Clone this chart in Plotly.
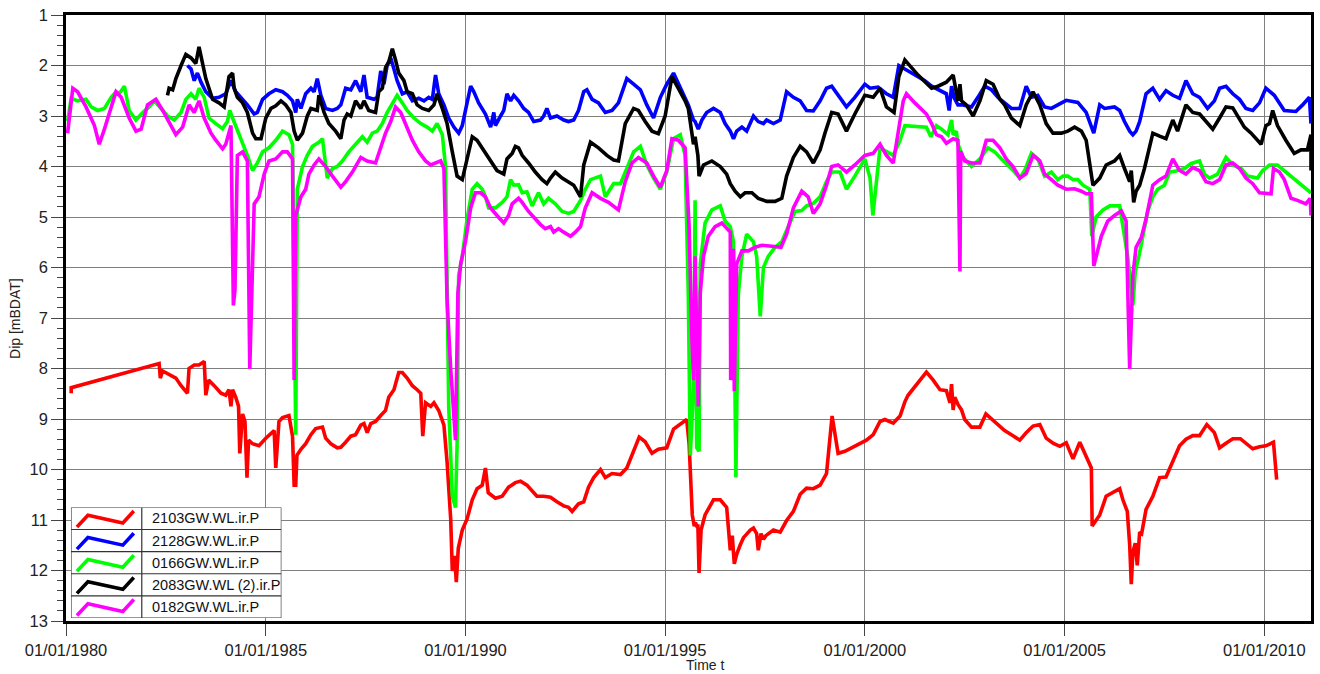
import pandas as pd
import plotly.graph_objects as go

# ---- groundwater dip series (decimal year, dip in m below datum) ----
T_2103 = [1980.13, 1980.13, 1982.33, 1982.36, 1982.42, 1982.75, 1982.88, 1983.04, 1983.08, 1983.21, 1983.33, 1983.46,
          1983.50, 1983.57, 1983.71, 1983.88, 1984.00, 1984.08, 1984.13, 1984.17, 1984.25, 1984.32, 1984.35, 1984.42,
          1984.48, 1984.53, 1984.57, 1984.67, 1984.83, 1985.00, 1985.21, 1985.25, 1985.33, 1985.42, 1985.58, 1985.67,
          1985.71, 1985.75, 1985.78, 1985.88, 1986.00, 1986.13, 1986.25, 1986.42, 1986.50, 1986.63, 1986.79, 1986.88,
          1987.00, 1987.13, 1987.25, 1987.38, 1987.46, 1987.54, 1987.63, 1987.75, 1987.88, 1988.00, 1988.08, 1988.21,
          1988.33, 1988.42, 1988.54, 1988.67, 1988.79, 1988.88, 1988.93, 1989.00, 1989.13, 1989.21, 1989.33, 1989.46,
          1989.54, 1989.63, 1989.67, 1989.73, 1989.77, 1989.82, 1989.92, 1990.04, 1990.17, 1990.29, 1990.42, 1990.46,
          1990.50, 1990.57, 1990.75, 1990.92, 1991.08, 1991.25, 1991.38, 1991.54, 1991.67, 1991.79, 1991.96, 1992.13,
          1992.29, 1992.46, 1992.58, 1992.67, 1992.83, 1992.96, 1993.08, 1993.21, 1993.38, 1993.50, 1993.67, 1993.88,
          1994.04, 1994.21, 1994.35, 1994.50, 1994.67, 1994.83, 1995.04, 1995.21, 1995.42, 1995.54, 1995.60, 1995.65,
          1995.68, 1995.73, 1995.76, 1995.79, 1995.82, 1995.85, 1995.90, 1996.00, 1996.21, 1996.38, 1996.54, 1996.63,
          1996.68, 1996.73, 1996.79, 1996.88, 1996.96, 1997.13, 1997.21, 1997.29, 1997.33, 1997.40, 1997.46, 1997.52,
          1997.71, 1997.88, 1998.04, 1998.21, 1998.38, 1998.54, 1998.71, 1998.88, 1999.04, 1999.18, 1999.33, 1999.50,
          1999.67, 1999.83, 2000.04, 2000.21, 2000.38, 2000.50, 2000.71, 2000.88, 2001.00, 2001.08, 2001.29, 2001.54,
          2001.71, 2001.88, 2002.04, 2002.13, 2002.17, 2002.21, 2002.25, 2002.33, 2002.42, 2002.50, 2002.67, 2002.88,
          2003.03, 2003.25, 2003.50, 2003.71, 2003.88, 2004.04, 2004.21, 2004.38, 2004.54, 2004.71, 2004.88, 2005.04,
          2005.21, 2005.38, 2005.54, 2005.67, 2005.69, 2005.88, 2006.04, 2006.25, 2006.38, 2006.46, 2006.57, 2006.63,
          2006.67, 2006.71, 2006.77, 2006.82, 2006.88, 2006.93, 2007.04, 2007.21, 2007.38, 2007.54, 2007.71, 2007.88,
          2008.04, 2008.21, 2008.38, 2008.56, 2008.75, 2008.88, 2009.04, 2009.21, 2009.40, 2009.54, 2009.71, 2009.88,
          2010.04, 2010.23, 2010.31]
V_2103 = [8.49, 8.38, 7.90, 8.19, 8.05, 8.19, 8.34, 8.49, 8.00, 7.93, 7.93, 7.86,
          8.53, 8.23, 8.34, 8.49, 8.53, 8.42, 8.75, 8.42, 8.57, 8.75, 9.68, 8.90,
          9.05, 10.16, 9.42, 9.49, 9.53, 9.38, 9.23, 9.97, 9.05, 8.97, 8.93, 9.34,
          10.31, 10.31, 9.72, 9.60, 9.49, 9.31, 9.19, 9.16, 9.38, 9.49, 9.57, 9.56,
          9.46, 9.34, 9.31, 9.12, 9.09, 9.27, 9.09, 9.05, 8.93, 8.83, 8.57, 8.42,
          8.08, 8.08, 8.19, 8.34, 8.42, 8.49, 9.34, 8.68, 8.75, 8.68, 8.83, 9.12,
          9.86, 10.98, 12.01, 11.71, 12.23, 11.56, 11.20, 10.98, 10.60, 10.38, 10.31, 10.16,
          9.97, 10.46, 10.57, 10.53, 10.35, 10.26, 10.23, 10.31, 10.42, 10.53, 10.53, 10.55,
          10.64, 10.72, 10.75, 10.83, 10.68, 10.64, 10.35, 10.16, 10.00, 10.16, 10.08, 10.10,
          9.97, 9.64, 9.36, 9.45, 9.68, 9.60, 9.57, 9.20, 9.08, 9.01, 9.49, 10.23,
          10.90, 11.12, 11.05, 11.12, 11.12, 12.05, 11.20, 10.90, 10.60, 10.60, 10.75, 11.60,
          11.31, 11.87, 11.68, 11.49, 11.35, 11.20, 11.16, 11.27, 11.60, 11.27, 11.38, 11.31,
          11.20, 11.24, 11.01, 10.83, 10.49, 10.37, 10.38, 10.31, 10.08, 8.94, 9.68, 9.64,
          9.57, 9.49, 9.42, 9.31, 9.05, 9.01, 9.08, 8.94, 8.66, 8.53, 8.31, 8.07,
          8.23, 8.42, 8.44, 8.68, 8.31, 8.82, 8.57, 8.71, 8.82, 9.01, 9.16, 9.16,
          8.90, 9.05, 9.23, 9.33, 9.42, 9.27, 9.14, 9.11, 9.38, 9.48, 9.54, 9.47,
          9.79, 9.46, 9.75, 9.97, 11.12, 10.90, 10.53, 10.44, 10.38, 10.60, 10.83, 11.49,
          12.27, 11.64, 11.46, 11.90, 11.24, 11.27, 10.79, 10.53, 10.16, 10.15, 9.83, 9.53,
          9.40, 9.33, 9.33, 9.11, 9.27, 9.57, 9.48, 9.39, 9.39, 9.49, 9.59, 9.55,
          9.53, 9.46, 10.20]

T_2128 = [1983.04, 1983.13, 1983.21, 1983.29, 1983.38, 1983.50, 1983.67, 1983.83, 1984.00, 1984.13, 1984.25, 1984.38,
          1984.54, 1984.71, 1984.79, 1984.92, 1985.08, 1985.25, 1985.42, 1985.54, 1985.67, 1985.75, 1985.79, 1985.88,
          1986.00, 1986.13, 1986.21, 1986.29, 1986.38, 1986.50, 1986.67, 1986.79, 1986.88, 1987.00, 1987.13, 1987.25,
          1987.38, 1987.46, 1987.54, 1987.71, 1987.79, 1987.88, 1987.96, 1988.04, 1988.13, 1988.21, 1988.29, 1988.42,
          1988.54, 1988.67, 1988.83, 1988.96, 1989.08, 1989.17, 1989.25, 1989.33, 1989.46, 1989.58, 1989.71, 1989.83,
          1989.92, 1990.00, 1990.13, 1990.21, 1990.33, 1990.50, 1990.63, 1990.71, 1990.75, 1990.88, 1990.96, 1991.04,
          1991.13, 1991.21, 1991.33, 1991.46, 1991.58, 1991.71, 1991.88, 1991.96, 1992.04, 1992.13, 1992.29, 1992.46,
          1992.58, 1992.71, 1992.83, 1992.96, 1993.04, 1993.17, 1993.33, 1993.50, 1993.67, 1993.83, 1994.04, 1994.21,
          1994.38, 1994.54, 1994.71, 1994.88, 1995.04, 1995.21, 1995.42, 1995.58, 1995.71, 1995.75, 1995.83, 1995.92,
          1996.04, 1996.21, 1996.38, 1996.50, 1996.63, 1996.71, 1996.79, 1996.92, 1997.04, 1997.21, 1997.33, 1997.46,
          1997.54, 1997.71, 1997.88, 1998.04, 1998.21, 1998.38, 1998.54, 1998.71, 1998.88, 1999.04, 1999.17, 1999.38,
          1999.54, 1999.75, 2000.00, 2000.13, 2000.33, 2000.54, 2000.71, 2000.85, 2001.00, 2001.25, 2001.50, 2001.67,
          2001.83, 2002.04, 2002.11, 2002.17, 2002.23, 2002.33, 2002.46, 2002.67, 2002.83, 2003.00, 2003.17, 2003.33,
          2003.50, 2003.67, 2003.88, 2004.04, 2004.17, 2004.33, 2004.50, 2004.67, 2004.83, 2005.04, 2005.33, 2005.54,
          2005.73, 2005.88, 2006.00, 2006.25, 2006.38, 2006.50, 2006.63, 2006.71, 2006.79, 2006.88, 2007.04, 2007.21,
          2007.38, 2007.54, 2007.71, 2007.88, 2008.04, 2008.21, 2008.38, 2008.58, 2008.75, 2008.88, 2009.04, 2009.21,
          2009.38, 2009.54, 2009.71, 2009.88, 2010.04, 2010.25, 2010.50, 2010.79, 2010.96, 2011.13, 2011.17]
V_2128 = [2.00, 2.07, 2.30, 2.15, 2.33, 2.52, 2.65, 2.63, 2.56, 2.30, 2.52, 2.63,
          2.78, 2.96, 2.93, 2.67, 2.56, 2.48, 2.52, 2.59, 2.70, 2.93, 2.67, 2.85,
          2.56, 2.45, 2.52, 2.26, 2.59, 2.85, 2.89, 2.85, 2.78, 2.45, 2.48, 2.30,
          2.52, 2.19, 2.63, 2.67, 2.63, 2.11, 2.37, 2.00, 1.85, 2.07, 2.30, 2.56,
          2.52, 2.70, 2.65, 2.70, 2.63, 2.67, 2.19, 2.56, 2.78, 3.04, 3.22, 3.34,
          3.19, 2.89, 2.41, 2.52, 2.74, 2.96, 3.22, 2.93, 3.19, 3.00, 2.89, 2.56,
          2.70, 2.59, 2.70, 2.85, 2.93, 3.11, 3.08, 3.00, 2.85, 3.04, 3.00, 3.08,
          3.11, 3.08, 2.89, 2.52, 2.48, 2.67, 2.74, 2.93, 2.89, 2.74, 2.26, 2.37,
          2.48, 2.78, 3.04, 2.63, 2.37, 2.15, 2.52, 2.78, 3.08, 3.11, 3.26, 3.08,
          2.93, 2.85, 2.93, 3.15, 3.30, 3.45, 3.30, 3.22, 3.30, 3.00, 3.11, 3.15,
          3.08, 3.15, 3.08, 2.52, 2.63, 2.70, 2.89, 2.90, 2.70, 2.45, 2.41, 2.63,
          2.82, 2.63, 2.37, 2.45, 2.43, 2.56, 2.63, 2.00, 2.07, 2.19, 2.30, 2.41,
          2.48, 2.56, 2.89, 2.41, 2.63, 2.78, 2.78, 2.82, 2.63, 2.41, 2.48, 2.63,
          2.74, 2.85, 2.85, 2.41, 2.63, 2.59, 2.82, 2.85, 2.78, 2.69, 2.73, 2.93,
          3.34, 2.78, 2.85, 2.82, 2.89, 3.11, 3.30, 3.37, 3.30, 3.11, 2.56, 2.45,
          2.67, 2.50, 2.59, 2.65, 2.30, 2.56, 2.63, 2.85, 2.70, 2.45, 2.41, 2.56,
          2.67, 2.85, 2.89, 2.74, 2.45, 2.59, 2.89, 2.91, 2.78, 2.63, 3.15]

T_0166 = [1980.04, 1980.13, 1980.29, 1980.50, 1980.63, 1980.79, 1980.96, 1981.13, 1981.25, 1981.33, 1981.46, 1981.58,
          1981.75, 1981.92, 1982.08, 1982.21, 1982.38, 1982.54, 1982.71, 1982.88, 1983.00, 1983.13, 1983.25, 1983.33,
          1983.46, 1983.58, 1983.75, 1983.92, 1984.04, 1984.10, 1984.17, 1984.25, 1984.38, 1984.54, 1984.67, 1984.79,
          1984.92, 1985.08, 1985.25, 1985.42, 1985.58, 1985.67, 1985.75, 1985.79, 1985.92, 1986.04, 1986.17, 1986.33,
          1986.42, 1986.54, 1986.67, 1986.79, 1986.92, 1987.08, 1987.25, 1987.42, 1987.54, 1987.67, 1987.79, 1987.92,
          1988.04, 1988.17, 1988.29, 1988.42, 1988.54, 1988.71, 1988.88, 1989.04, 1989.17, 1989.29, 1989.42, 1989.50,
          1989.58, 1989.67, 1989.75, 1989.79, 1989.83, 1989.92, 1990.04, 1990.17, 1990.29, 1990.42, 1990.50, 1990.58,
          1990.75, 1990.92, 1991.04, 1991.13, 1991.21, 1991.33, 1991.42, 1991.54, 1991.67, 1991.83, 1991.96, 1992.08,
          1992.25, 1992.42, 1992.58, 1992.71, 1992.88, 1993.00, 1993.13, 1993.38, 1993.50, 1993.71, 1993.88, 1994.04,
          1994.21, 1994.38, 1994.54, 1994.71, 1994.88, 1995.04, 1995.21, 1995.38, 1995.50, 1995.58, 1995.63, 1995.71,
          1995.75, 1995.79, 1995.85, 1995.88, 1996.00, 1996.17, 1996.38, 1996.50, 1996.63, 1996.71, 1996.77, 1996.83,
          1996.92, 1997.04, 1997.21, 1997.29, 1997.38, 1997.46, 1997.58, 1997.75, 1997.92, 1998.08, 1998.25, 1998.42,
          1998.54, 1998.71, 1998.88, 1999.04, 1999.17, 1999.38, 1999.54, 1999.75, 2000.00, 2000.13, 2000.20, 2000.38,
          2000.54, 2000.71, 2000.88, 2001.00, 2001.54, 2001.65, 2001.79, 2001.92, 2002.08, 2002.17, 2002.21, 2002.29,
          2002.33, 2002.46, 2002.67, 2002.88, 2003.08, 2003.25, 2003.42, 2003.58, 2003.75, 2003.88, 2004.00, 2004.17,
          2004.33, 2004.50, 2004.67, 2004.83, 2004.96, 2005.08, 2005.21, 2005.33, 2005.46, 2005.63, 2005.68, 2005.79,
          2005.96, 2006.13, 2006.25, 2006.38, 2006.46, 2006.58, 2006.71, 2006.77, 2006.88, 2006.96, 2007.08, 2007.21,
          2007.33, 2007.50, 2007.63, 2007.79, 2008.00, 2008.17, 2008.38, 2008.50, 2008.63, 2008.83, 2009.04, 2009.21,
          2009.42, 2009.58, 2009.83, 2009.96, 2010.13, 2010.33, 2011.17]
V_0166 = [3.10, 2.65, 2.70, 2.67, 2.82, 2.89, 2.85, 2.63, 2.52, 2.56, 2.41, 2.89,
          3.08, 2.93, 2.82, 2.70, 2.85, 3.00, 3.08, 2.93, 2.67, 2.56, 2.67, 2.45,
          2.63, 3.04, 3.15, 3.25, 3.11, 2.89, 3.04, 3.19, 3.45, 3.78, 4.08, 3.93,
          3.71, 3.63, 3.48, 3.30, 3.37, 3.56, 9.31, 4.45, 4.00, 3.78, 3.60, 3.52,
          3.45, 4.23, 4.04, 4.00, 3.89, 3.71, 3.56, 3.41, 3.52, 3.34, 3.30, 3.15,
          2.93, 2.74, 2.59, 2.74, 2.89, 3.04, 3.15, 3.22, 3.30, 3.15, 3.37, 4.00,
          8.75, 10.53, 10.75, 9.50, 6.15, 5.78, 5.04, 4.45, 4.34, 4.45, 4.60, 4.82,
          4.82, 4.71, 4.60, 4.26, 4.37, 4.36, 4.52, 4.50, 4.78, 4.52, 4.74, 4.63,
          4.74, 4.89, 4.93, 4.89, 4.67, 4.45, 4.26, 4.19, 4.60, 4.34, 4.34, 4.04,
          3.71, 3.60, 3.97, 4.23, 4.45, 4.11, 3.45, 3.37, 3.78, 6.53, 9.72, 8.38,
          4.67, 9.57, 9.64, 5.93, 5.12, 4.86, 4.78, 5.08, 5.19, 5.49, 10.16, 6.53,
          5.78, 5.34, 5.49, 5.78, 6.97, 6.00, 5.78, 5.60, 5.49, 5.19, 4.89, 4.87,
          4.78, 4.73, 4.60, 4.30, 4.11, 4.11, 4.45, 4.19, 3.85, 4.23, 4.97, 3.63,
          3.71, 3.78, 3.48, 3.19, 3.22, 3.41, 3.19, 3.26, 3.37, 3.08, 3.37, 3.30,
          3.56, 3.82, 4.00, 3.85, 3.63, 3.71, 3.85, 3.97, 4.11, 4.23, 4.08, 3.74,
          3.85, 4.19, 4.11, 4.26, 4.19, 4.19, 4.26, 4.26, 4.37, 4.45, 5.38, 5.00,
          4.86, 4.78, 4.78, 4.78, 5.19, 5.78, 6.75, 6.08, 5.71, 5.34, 4.89, 4.60,
          4.45, 4.37, 4.11, 4.09, 4.04, 3.94, 3.89, 4.15, 4.23, 4.15, 3.82, 3.97,
          4.04, 4.19, 4.23, 4.08, 3.97, 3.97, 4.52]

T_2083 = [1982.54, 1982.58, 1982.67, 1982.75, 1982.88, 1983.00, 1983.13, 1983.25, 1983.33, 1983.42, 1983.50, 1983.67,
          1983.83, 1983.96, 1984.08, 1984.17, 1984.21, 1984.29, 1984.42, 1984.54, 1984.67, 1984.75, 1984.88, 1985.00,
          1985.13, 1985.25, 1985.38, 1985.50, 1985.63, 1985.71, 1985.79, 1985.92, 1986.04, 1986.13, 1986.29, 1986.33,
          1986.46, 1986.58, 1986.75, 1986.88, 1986.96, 1987.04, 1987.13, 1987.25, 1987.38, 1987.46, 1987.58, 1987.75,
          1987.83, 1987.92, 1988.00, 1988.08, 1988.17, 1988.25, 1988.33, 1988.46, 1988.54, 1988.67, 1988.79, 1988.92,
          1989.08, 1989.21, 1989.29, 1989.42, 1989.54, 1989.67, 1989.79, 1989.92, 1990.00, 1990.17, 1990.29, 1990.42,
          1990.50, 1990.63, 1990.79, 1990.96, 1991.04, 1991.17, 1991.25, 1991.33, 1991.42, 1991.58, 1991.75, 1991.92,
          1992.04, 1992.13, 1992.25, 1992.42, 1992.58, 1992.71, 1992.88, 1992.96, 1993.13, 1993.33, 1993.54, 1993.71,
          1993.83, 1994.00, 1994.21, 1994.33, 1994.50, 1994.67, 1994.83, 1995.00, 1995.17, 1995.33, 1995.50, 1995.58,
          1995.71, 1995.75, 1995.82, 1995.85, 1995.96, 1996.17, 1996.38, 1996.54, 1996.63, 1996.75, 1996.88, 1997.00,
          1997.17, 1997.33, 1997.54, 1997.75, 1997.92, 1998.04, 1998.21, 1998.38, 1998.54, 1998.71, 1998.88, 1999.00,
          1999.17, 1999.33, 1999.54, 1999.75, 2000.00, 2000.21, 2000.38, 2000.54, 2000.73, 2000.85, 2000.96, 2001.00,
          2001.33, 2001.67, 2001.83, 2002.04, 2002.21, 2002.33, 2002.38, 2002.42, 2002.54, 2002.71, 2002.88, 2003.04,
          2003.21, 2003.38, 2003.50, 2003.67, 2003.88, 2004.04, 2004.21, 2004.38, 2004.54, 2004.71, 2004.92, 2005.08,
          2005.25, 2005.42, 2005.54, 2005.71, 2005.88, 2006.04, 2006.25, 2006.38, 2006.50, 2006.63, 2006.67, 2006.73,
          2006.79, 2006.88, 2007.00, 2007.21, 2007.38, 2007.54, 2007.71, 2007.83, 2008.04, 2008.21, 2008.38, 2008.54,
          2008.71, 2008.88, 2009.04, 2009.21, 2009.33, 2009.50, 2009.67, 2009.79, 2009.92, 2010.04, 2010.13, 2010.21,
          2010.33, 2010.54, 2010.75, 2010.92, 2011.08, 2011.17, 2011.17]
V_2083 = [2.59, 2.45, 2.48, 2.26, 2.00, 1.78, 1.85, 1.96, 1.63, 1.93, 2.26, 2.67,
          2.74, 2.82, 2.22, 2.15, 2.45, 2.63, 2.74, 2.93, 3.34, 3.45, 3.45, 3.04,
          2.85, 2.80, 2.70, 2.78, 2.93, 3.30, 3.48, 3.34, 3.00, 2.85, 2.89, 2.59,
          2.93, 3.15, 3.30, 3.45, 3.08, 2.96, 3.00, 2.70, 2.85, 2.70, 2.89, 2.93,
          2.52, 2.45, 2.04, 1.93, 1.67, 1.89, 2.15, 2.30, 2.52, 2.56, 2.78, 2.85,
          2.89, 2.78, 2.56, 2.85, 3.15, 3.71, 4.19, 4.26, 4.00, 3.41, 3.48, 3.63,
          3.74, 3.89, 4.08, 4.15, 3.85, 3.74, 3.60, 3.63, 3.78, 3.93, 4.11, 4.26,
          4.34, 4.23, 4.11, 4.23, 4.30, 4.37, 4.60, 3.97, 3.52, 3.63, 3.78, 3.87,
          3.89, 3.15, 2.85, 2.89, 3.11, 3.30, 3.35, 3.00, 2.22, 2.45, 2.70, 2.85,
          3.56, 3.41, 3.78, 4.19, 3.97, 3.89, 4.00, 4.15, 4.34, 4.49, 4.60, 4.52,
          4.52, 4.63, 4.69, 4.69, 4.63, 4.19, 3.82, 3.60, 3.71, 3.93, 3.67, 3.34,
          2.93, 2.96, 3.30, 2.96, 2.59, 2.63, 2.45, 2.82, 2.93, 2.22, 1.96, 1.89,
          2.19, 2.45, 2.41, 2.33, 2.19, 2.70, 2.37, 2.70, 2.78, 3.00, 2.70, 2.30,
          2.37, 2.67, 2.78, 3.04, 3.19, 2.78, 2.52, 2.78, 3.15, 3.34, 3.34, 3.30,
          3.22, 3.30, 3.48, 4.37, 4.23, 3.97, 3.89, 3.78, 4.04, 4.30, 4.08, 4.71,
          4.49, 4.37, 4.04, 3.34, 3.40, 3.45, 3.08, 3.30, 2.78, 2.93, 2.96, 3.11,
          3.26, 3.04, 2.82, 2.84, 3.00, 3.22, 3.34, 3.45, 3.56, 3.19, 3.15, 2.89,
          3.19, 3.48, 3.74, 3.67, 3.67, 3.37, 4.08]

T_0182 = [1980.04, 1980.17, 1980.29, 1980.50, 1980.71, 1980.83, 1980.96, 1981.08, 1981.25, 1981.38, 1981.58, 1981.75,
          1981.88, 1982.04, 1982.25, 1982.42, 1982.58, 1982.75, 1982.92, 1983.08, 1983.21, 1983.33, 1983.46, 1983.63,
          1983.75, 1983.92, 1984.00, 1984.13, 1984.19, 1984.23, 1984.29, 1984.42, 1984.54, 1984.60, 1984.71, 1984.83,
          1984.96, 1985.08, 1985.25, 1985.42, 1985.54, 1985.67, 1985.71, 1985.75, 1985.88, 1986.00, 1986.08, 1986.21,
          1986.33, 1986.50, 1986.67, 1986.88, 1987.00, 1987.17, 1987.38, 1987.54, 1987.75, 1987.88, 1988.00, 1988.13,
          1988.25, 1988.38, 1988.50, 1988.67, 1988.83, 1989.00, 1989.13, 1989.25, 1989.38, 1989.46, 1989.54, 1989.63,
          1989.75, 1989.81, 1989.88, 1990.00, 1990.13, 1990.25, 1990.38, 1990.50, 1990.63, 1990.79, 1990.96, 1991.08,
          1991.17, 1991.33, 1991.42, 1991.58, 1991.75, 1991.88, 1992.00, 1992.13, 1992.21, 1992.33, 1992.46, 1992.63,
          1992.75, 1992.88, 1993.00, 1993.17, 1993.38, 1993.58, 1993.83, 1994.00, 1994.17, 1994.33, 1994.54, 1994.71,
          1994.88, 1995.04, 1995.17, 1995.33, 1995.50, 1995.60, 1995.67, 1995.71, 1995.75, 1995.83, 1995.88, 1995.96,
          1996.08, 1996.25, 1996.42, 1996.54, 1996.63, 1996.64, 1996.71, 1996.73, 1996.79, 1996.92, 1997.08, 1997.25,
          1997.42, 1997.67, 1997.90, 1998.04, 1998.21, 1998.42, 1998.58, 1998.71, 1998.88, 1999.04, 1999.17, 1999.33,
          1999.54, 1999.75, 2000.00, 2000.21, 2000.38, 2000.54, 2000.71, 2000.83, 2000.96, 2001.04, 2001.25, 2001.54,
          2001.67, 2001.79, 2001.92, 2002.04, 2002.21, 2002.33, 2002.38, 2002.40, 2002.50, 2002.67, 2002.88, 2003.04,
          2003.21, 2003.38, 2003.54, 2003.71, 2003.88, 2004.04, 2004.21, 2004.38, 2004.50, 2004.67, 2004.83, 2005.04,
          2005.25, 2005.42, 2005.54, 2005.67, 2005.73, 2005.92, 2006.08, 2006.25, 2006.42, 2006.54, 2006.63, 2006.71,
          2006.79, 2006.92, 2007.04, 2007.21, 2007.38, 2007.54, 2007.71, 2007.88, 2008.04, 2008.21, 2008.38, 2008.54,
          2008.71, 2008.88, 2009.04, 2009.21, 2009.38, 2009.54, 2009.71, 2009.88, 2010.04, 2010.17, 2010.23, 2010.38,
          2010.50, 2010.67, 2010.83, 2011.04, 2011.15, 2011.17]
V_0182 = [3.34, 2.45, 2.52, 2.82, 3.19, 3.56, 3.26, 2.96, 2.52, 2.63, 3.04, 3.30,
          3.26, 2.78, 2.67, 2.89, 3.11, 3.37, 3.22, 2.78, 2.93, 2.70, 3.04, 3.34,
          3.48, 3.65, 3.56, 3.19, 6.75, 6.45, 3.78, 3.71, 3.89, 8.01, 4.74, 4.60,
          4.15, 3.89, 3.85, 3.71, 3.71, 3.85, 8.23, 4.97, 4.60, 4.45, 4.15, 3.97,
          3.85, 4.00, 4.19, 4.41, 4.30, 4.11, 3.82, 3.89, 3.93, 3.63, 3.34, 3.11,
          2.82, 2.93, 3.15, 3.48, 3.71, 3.89, 3.97, 3.93, 3.89, 4.04, 6.67, 8.00,
          9.42, 6.50, 5.93, 5.49, 4.82, 4.52, 4.52, 4.60, 4.82, 4.97, 5.12, 4.97,
          4.74, 4.63, 4.71, 4.89, 5.04, 5.15, 5.23, 5.19, 5.30, 5.23, 5.30, 5.38,
          5.30, 5.19, 4.82, 4.52, 4.63, 4.71, 4.86, 4.30, 3.93, 3.82, 3.93, 4.19,
          4.41, 4.08, 3.45, 3.48, 3.63, 5.19, 7.42, 8.23, 5.78, 8.75, 6.50, 5.78,
          5.38, 5.19, 5.12, 5.23, 5.30, 8.23, 5.63, 8.45, 5.93, 5.67, 5.67, 5.60,
          5.56, 5.58, 5.60, 5.34, 4.82, 4.49, 4.60, 4.93, 4.74, 4.37, 4.00, 3.97,
          4.11, 3.97, 3.78, 3.74, 3.56, 3.78, 3.93, 3.34, 2.70, 2.56, 2.74, 2.96,
          3.15, 3.37, 3.41, 3.54, 3.45, 3.48, 6.08, 3.70, 3.89, 3.93, 3.93, 3.48,
          3.48, 3.63, 3.85, 4.00, 4.23, 4.14, 3.78, 3.89, 4.15, 4.26, 4.37, 4.45,
          4.44, 4.49, 4.54, 4.54, 5.97, 5.38, 5.08, 4.97, 4.88, 5.08, 8.01, 6.15,
          5.60, 5.41, 5.04, 4.37, 4.26, 4.19, 3.85, 4.08, 4.15, 4.02, 4.08, 4.30,
          4.34, 4.26, 3.97, 3.93, 4.04, 4.23, 4.34, 4.52, 4.54, 4.54, 4.04, 4.11,
          4.26, 4.63, 4.67, 4.74, 4.63, 4.97]

SERIES_NAMES = ["2103GW.WL.ir.P", "2128GW.WL.ir.P", "0166GW.WL.ir.P", "2083GW.WL (2).ir.P", "0182GW.WL.ir.P"]
SERIES_COLORS = ["#ff0000", "#0000ff", "#00ff00", "#000000", "#ff00ff"]
SERIES_T = [T_2103, T_2128, T_0166, T_2083, T_0182]
SERIES_V = [V_2103, V_2128, V_0166, V_2083, V_0182]

Y_TICKS = list(range(1, 14))
X_TICK_YEARS = [1980, 1985, 1990, 1995, 2000, 2005, 2010]
X_START, X_END = 1980.0, 2011.17


def to_date(y):
    """Convert a decimal year into a timestamp."""
    year = int(y)
    start = pd.Timestamp(year=year, month=1, day=1)
    days = (pd.Timestamp(year=year + 1, month=1, day=1) - start).days
    return start + pd.Timedelta(days=(y - year) * days)


FONT = "Liberation Sans, Arial, sans-serif"
LINE_W = 3.6
fig = go.Figure()

for name, color, ts, vs in zip(SERIES_NAMES, SERIES_COLORS, SERIES_T, SERIES_V):
    fig.add_trace(go.Scatter(
        x=[to_date(t) for t in ts], y=vs, mode="lines", name=name,
        line=dict(color=color, width=LINE_W), showlegend=False,
        xaxis="x", yaxis="y",
    ))

# ---- boxed legend drawn on a small overlay axis (units ~ pixels) ----
LEG_W, LEG_H = 211, 111
ROW_H = LEG_H / len(SERIES_NAMES)
DIV_X = 71
SAMPLE_X = [6, 17, 52, 63]
SAMPLE_Y = [19.7, 8.0, 15.7, 3.7]

fig.add_trace(go.Scatter(
    x=[0, LEG_W, LEG_W, 0, 0], y=[0, 0, LEG_H, LEG_H, 0],
    mode="lines", fill="toself", fillcolor="white",
    line=dict(color="#333333", width=1.2), showlegend=False, hoverinfo="skip",
    xaxis="x2", yaxis="y2",
))
grid_x, grid_y = [DIV_X, DIV_X, None], [0, LEG_H, None]
for i in range(1, len(SERIES_NAMES)):
    grid_x += [0, LEG_W, None]
    grid_y += [i * ROW_H, i * ROW_H, None]
fig.add_trace(go.Scatter(
    x=grid_x, y=grid_y, mode="lines", line=dict(color="#333333", width=1.2),
    showlegend=False, hoverinfo="skip", xaxis="x2", yaxis="y2",
))
for i, (name, color) in enumerate(zip(SERIES_NAMES, SERIES_COLORS)):
    fig.add_trace(go.Scatter(
        x=SAMPLE_X, y=[i * ROW_H + s for s in SAMPLE_Y], mode="lines",
        line=dict(color=color, width=LINE_W), showlegend=False, hoverinfo="skip",
        xaxis="x2", yaxis="y2",
    ))
    fig.add_annotation(
        x=DIV_X + 8, y=(i + 0.5) * ROW_H, xref="x2", yref="y2", text=name,
        showarrow=False, xanchor="left", yanchor="middle",
        font=dict(family=FONT, size=14.5, color="#111111"),
    )

fig.update_layout(
    width=1320, height=674,
    margin=dict(l=66, r=6, t=13, b=53),
    paper_bgcolor="white", plot_bgcolor="white",
    font=dict(family=FONT, size=16, color="#222222"),
    xaxis=dict(
        type="date",
        range=[to_date(X_START), to_date(X_END)],
        tickvals=[to_date(y) for y in X_TICK_YEARS],
        tickformat="%d/%m/%Y",
        ticks="outside", ticklen=12, tickcolor="#444444", tickwidth=1,
        showgrid=True, gridcolor="#7f7f7f", gridwidth=1,
        showline=True, linecolor="black", linewidth=2.5, mirror=True,
        zeroline=False, tickfont=dict(family=FONT, size=16.5, color="#222222"),
    ),
    yaxis=dict(
        range=[13, 1],
        tickvals=Y_TICKS,
        ticks="outside", ticklen=12, tickcolor="#444444", tickwidth=1,
        minor=dict(dtick=0.2, tick0=1, ticks="outside", ticklen=6, tickcolor="#444444", showgrid=False),
        showgrid=True, gridcolor="#7f7f7f", gridwidth=1,
        showline=True, linecolor="black", linewidth=2.5, mirror=True,
        zeroline=False, tickfont=dict(family=FONT, size=16.5, color="#222222"),
    ),
    xaxis2=dict(domain=[0.004, 0.173], range=[0, LEG_W], visible=False, fixedrange=True),
    yaxis2=dict(domain=[0.005, 0.1875], range=[LEG_H, 0], visible=False, fixedrange=True),
)

fig.add_annotation(
    x=-0.041, y=0.5, xref="paper", yref="paper", text="Dip [mBDAT]", textangle=-90,
    showarrow=False, xanchor="center", yanchor="middle",
    font=dict(family=FONT, size=14, color="#222222"),
)
fig.add_annotation(
    x=0.5136, y=-0.072, xref="paper", yref="paper", text="Time t",
    showarrow=False, xanchor="center", yanchor="middle",
    font=dict(family=FONT, size=14, color="#222222"),
)

fig.write_html("out.html")
